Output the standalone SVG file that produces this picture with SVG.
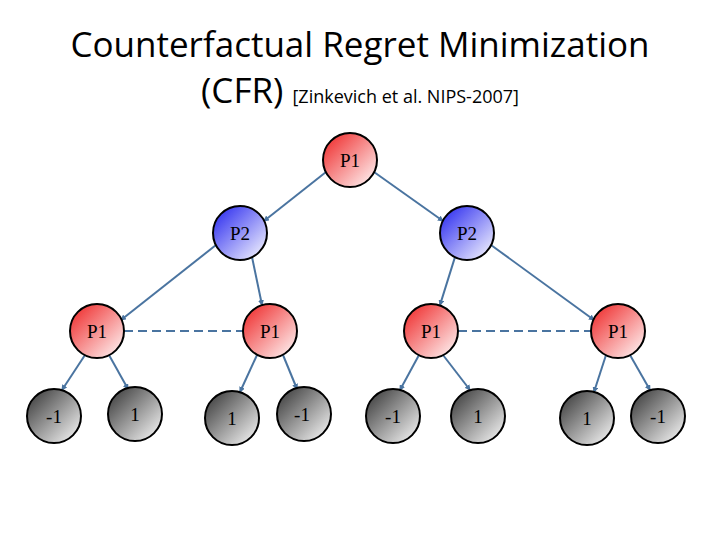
<svg xmlns="http://www.w3.org/2000/svg" width="720" height="540" viewBox="0 0 720 540">
<defs>
<linearGradient id="gr" x1="0" y1="0" x2="1" y2="1"><stop offset="0" stop-color="#ee2020"/><stop offset="1" stop-color="#ffffff"/></linearGradient>
<linearGradient id="gb" x1="0" y1="0" x2="1" y2="1"><stop offset="0" stop-color="#2020ee"/><stop offset="1" stop-color="#ffffff"/></linearGradient>
<linearGradient id="gg" x1="0" y1="0" x2="1" y2="1"><stop offset="0" stop-color="#303030"/><stop offset="1" stop-color="#ffffff"/></linearGradient>
<marker id="ar" markerWidth="6" markerHeight="6" refX="5" refY="3" orient="auto" markerUnits="userSpaceOnUse"><path d="M0,0 L6,3 L0,6z" fill="#4a74a0"/></marker>
</defs>
<style>
circle{stroke:#000;stroke-width:2}
.r{fill:url(#gr)}.b{fill:url(#gb)}.g{fill:url(#gg)}
.l{font-family:"Liberation Serif",serif;font-size:19px;text-anchor:middle;fill:#000}
#edges line{stroke:#4a74a0;stroke-width:2;marker-end:url(#ar)}
.d{stroke:#d01010;stroke-width:3;stroke-dasharray:9,5}
.t{font-family:"Open Sans","Liberation Sans",sans-serif;fill:#000}
</style>
<rect width="720" height="540" fill="#fff"/>
<text class="t" x="360" y="57" font-size="35" text-anchor="middle">Counterfactual Regret Minimization</text>
<text class="t" x="360" y="103" text-anchor="middle"><tspan font-size="35">(CFR) </tspan><tspan font-size="18">[Zinkevich et al. NIPS-2007]</tspan></text>
<g id="edges">
<line x1="326" y1="172" x2="264" y2="221"/>
<line x1="374" y1="172" x2="443" y2="221"/>
<line x1="216" y1="245" x2="121" y2="320"/>
<line x1="252" y1="257" x2="262" y2="305"/>
<line x1="455" y1="257" x2="440" y2="305"/>
<line x1="491" y1="245" x2="594" y2="320"/>
<line x1="85" y1="355" x2="62" y2="390"/>
<line x1="109" y1="355" x2="128" y2="389"/>
<line x1="257" y1="355" x2="240" y2="392"/>
<line x1="283" y1="355" x2="297" y2="389"/>
<line x1="419" y1="355" x2="400" y2="390"/>
<line x1="443" y1="355" x2="470" y2="390"/>
<line x1="606" y1="355" x2="594" y2="392"/>
<line x1="630" y1="355" x2="650" y2="390"/>
<line class="d" x1="124" y1="331" x2="243" y2="331" style="marker-end:none"/>
<line class="d" x1="458" y1="331" x2="591" y2="331" style="marker-end:none"/>
</g>
<g id="n0"><circle class="r" cx="350" cy="160" r="27"/><text class="l" x="350" y="167">P1</text></g>
<g id="n1"><circle class="b" cx="240" cy="233" r="27"/><text class="l" x="240" y="240">P2</text></g>
<g id="n2"><circle class="b" cx="467" cy="233" r="27"/><text class="l" x="467" y="240">P2</text></g>
<g id="n3"><circle class="r" cx="97" cy="331" r="27"/><text class="l" x="97" y="338">P1</text></g>
<g id="n4"><circle class="r" cx="270" cy="331" r="27"/><text class="l" x="270" y="338">P1</text></g>
<g id="n5"><circle class="r" cx="431" cy="331" r="27"/><text class="l" x="431" y="338">P1</text></g>
<g id="n6"><circle class="r" cx="618" cy="331" r="27"/><text class="l" x="618" y="338">P1</text></g>
<g id="n7"><circle class="g" cx="54" cy="416" r="27"/><text class="l" x="54" y="423">-1</text></g>
<g id="n8"><circle class="g" cx="135" cy="414" r="27"/><text class="l" x="135" y="421">1</text></g>
<g id="n9"><circle class="g" cx="232" cy="418" r="27"/><text class="l" x="232" y="425">1</text></g>
<g id="n10"><circle class="g" cx="304" cy="414" r="27"/><text class="l" x="302" y="421">-1</text></g>
<g id="n11"><circle class="g" cx="393" cy="416" r="27"/><text class="l" x="393" y="423">-1</text></g>
<g id="n12"><circle class="g" cx="478" cy="416" r="27"/><text class="l" x="478" y="423">1</text></g>
<g id="n13"><circle class="g" cx="587" cy="418" r="27"/><text class="l" x="587" y="425">1</text></g>
<g id="n14"><circle class="g" cx="658" cy="416" r="27"/><text class="l" x="658" y="423">-1</text></g>
</svg>
